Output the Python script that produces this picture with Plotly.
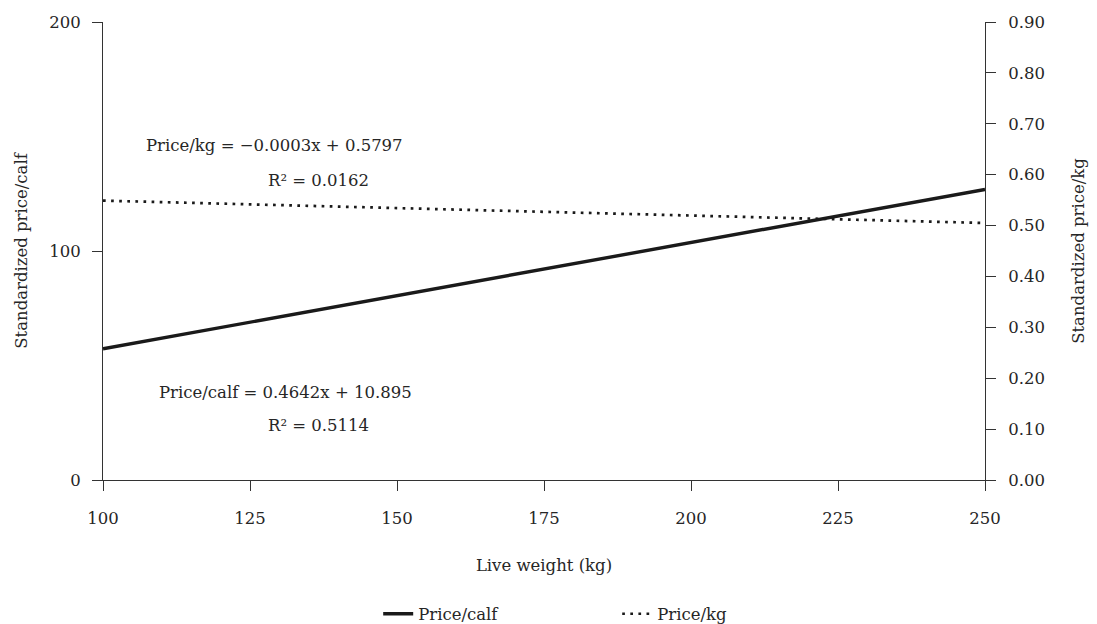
import plotly.graph_objects as go

live_weight = [100, 250]
price_calf = [57.3, 126.9]
price_kg = [0.549, 0.505]

x_ticks = [100, 125, 150, 175, 200, 225, 250]
left_ticks = [0, 100, 200]
right_ticks = [0.0, 0.1, 0.2, 0.3, 0.4, 0.5, 0.6, 0.7, 0.8, 0.9]

FONT = "DejaVu Serif"
TXT = "#262626"
FS = 16.5

fig = go.Figure()
fig.add_trace(go.Scatter(x=live_weight, y=price_calf, mode="lines", name="Price/calf",
                         line=dict(color="#1a1a1a", width=3.4), legend="legend"))
fig.add_trace(go.Scatter(x=live_weight, y=price_kg, mode="lines", name="Price/kg", yaxis="y2",
                         line=dict(color="#1a1a1a", width=2.7, dash="2.7px,5.4px"), legend="legend2"))

axis_common = dict(showgrid=False, zeroline=False, showline=True, linecolor="#333333", linewidth=1,
                   ticks="outside", ticklen=10, tickcolor="#333333", automargin=False,
                   tickfont=dict(family=FONT, size=FS, color=TXT))

leg_common = dict(orientation="h", yref="container", y=0.0288, yanchor="middle", xanchor="left",
                  font=dict(family=FONT, size=FS, color=TXT), bgcolor="rgba(0,0,0,0)")

fig.update_layout(
    width=1097, height=624,
    margin=dict(l=95, r=120, t=14, b=152, autoexpand=False),
    plot_bgcolor="white", paper_bgcolor="white",
    font=dict(family=FONT, size=FS, color=TXT),
    xaxis=dict(range=[100, 250], tickvals=x_ticks, ticklabelstandoff=13,
               title=dict(text="Live weight (kg)", standoff=32,
                          font=dict(family=FONT, size=FS, color=TXT)), **axis_common),
    yaxis=dict(range=[0, 200], tickvals=left_ticks, ticklabelstandoff=8,
               title=dict(text="Standardized price/calf", standoff=17,
                          font=dict(family=FONT, size=FS, color=TXT)), **axis_common),
    yaxis2=dict(range=[0, 0.9], tickvals=right_ticks, tickformat=".2f", overlaying="y", side="right",
                ticklabelstandoff=9,
                title=dict(text="Standardized price/kg", standoff=28,
                           font=dict(family=FONT, size=FS, color=TXT)), **axis_common),
    showlegend=True,
    legend=dict(x=0.312, **leg_common),
    legend2=dict(x=0.583, **leg_common),
)

ann = [
    ("Price/kg = \u22120.0003x + 0.5797", 129.25, 0.7314),
    ("R\u00b2 = 0.0162", 136.7, 0.655),
    ("Price/calf = 0.4642x + 10.895", 131.1, 0.192),
    ("R\u00b2 = 0.5114", 136.7, 0.118),
]
for t, xx, yy in ann:
    fig.add_annotation(text=t, x=xx, y=yy, xref="x", yref="paper", showarrow=False,
                       xanchor="center", yanchor="middle",
                       font=dict(family=FONT, size=FS, color=TXT))

fig.write_html("out.html")
